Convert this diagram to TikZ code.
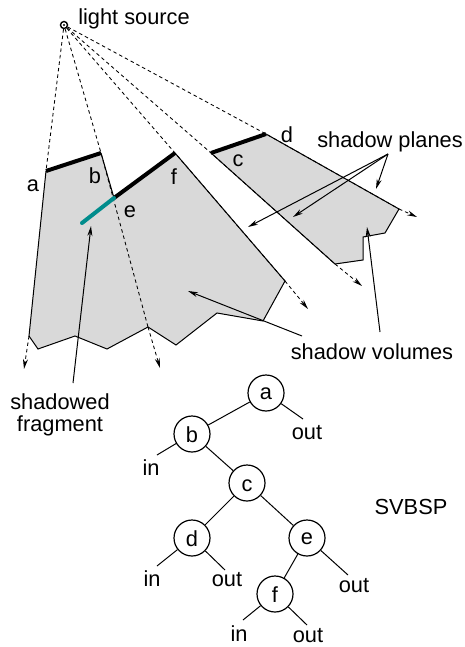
\documentclass[tikz,border=0pt]{standalone}
\usepackage{fontspec}
\setmainfont{Liberation Sans}
\usetikzlibrary{arrows.meta}
\definecolor{fragteal}{RGB}{0,140,140}
\tikzset{
  lbl/.style={anchor=base,inner sep=0pt,font=\fontsize{21.8}{24}\selectfont},
  treenode/.style={circle,draw,line width=1.2pt,minimum size=36pt,inner sep=0pt,text height=16pt,text depth=0pt,font=\fontsize{21.8}{24}\selectfont},
  lownode/.style={treenode,text height=12pt},
  ray/.style={line width=0.85pt,dash pattern=on 3.5pt off 3pt},
  edgeline/.style={line width=1pt},
  tip/.style={-{Stealth[length=10pt,width=5pt]}},
  pointer/.style={line width=1pt,tip},
  occluder/.style={line width=4pt},
  branch/.style={line width=1pt},
}
\begin{document}
\begin{tikzpicture}[x=1pt,y=-1pt]
\useasboundingbox (0,0) rectangle (464,647);
% key points
\coordinate (A) at (46,171); \coordinate (B) at (101,153);
\coordinate (E) at (114,198); \coordinate (F) at (175,153);
\coordinate (C) at (211,153); \coordinate (D) at (266,134);
\coordinate (T) at (82,223);
\coordinate (a1) at (29,336); \coordinate (a2) at (24,369);
\coordinate (b1) at (148,327); \coordinate (b2) at (160,368);
\coordinate (f1) at (285,281); \coordinate (f2) at (308,309);
\coordinate (c1) at (335,264); \coordinate (c2) at (362,286);
\coordinate (d1) at (399,209); \coordinate (d2) at (417,217);
% volumes
\fill[gray!30] (A) -- (a1) -- (38,349) -- (75,336) -- (107,349) -- (b1) -- (176,345) -- (217,313) -- (263,321) -- (f1) -- (F) -- (E) -- (B) -- cycle;
\fill[gray!30] (C) -- (D) -- (d1) -- (385,233) -- (363,237) -- (363,260) -- (c1) -- cycle;
\draw[edgeline] (A) -- (a1) -- (38,349) -- (75,336) -- (107,349) -- (b1) -- (176,345) -- (217,313) -- (263,321) -- (f1) -- (F);
\draw[edgeline] (D) -- (d1) -- (385,233) -- (363,237) -- (363,260) -- (c1) -- (C);
\draw[edgeline] (B) -- (E);
% light
\node[circle,draw,line width=1.4pt,minimum size=7pt,inner sep=0pt] (light) at (64,25) {};
\fill (64,25) circle (1.2pt);
\node[lbl] (lightlabel) at (134,25) {light source};
% rays
\draw[ray] (light) -- (A);
\draw[ray] (light) -- (B) -- (b1);
\draw[ray] (light) -- (F) -- (f1);
\draw[ray] (light) -- (C) -- (c1);
\draw[ray] (light) -- (D) -- (d1);
\draw[ray,tip] (a1) -- (a2);
\draw[ray,tip] (b1) -- (b2);
\draw[ray,tip] (f1) -- (f2);
\draw[ray,tip] (c1) -- (c2);
\draw[ray,tip] (d1) -- (d2);
% occluders
\draw[occluder] (A) -- (B);
\draw[occluder] (E) -- (F);
\draw[occluder] (C) -- (D);
\draw[occluder,color=fragteal,line cap=round] (T) -- (E);
% labels
\node[lbl] (la) at (33,191) {a};
\node[lbl] (lb) at (95,183) {b};
\node[lbl] (le) at (130,217) {e};
\node[lbl] (lf) at (174,184) {f};
\node[lbl] (lc) at (238,167) {c};
\node[lbl] (ld) at (287,143) {d};
\node[lbl] (planes) at (390,148) {shadow planes};
\node[lbl] (volumes) at (372,359) {shadow volumes};
\node[lbl] (shadowed) at (60,409) {shadowed};
\node[lbl] (fragment) at (60,431) {fragment};
% pointers
\coordinate (ps) at (388,154);
\coordinate (vs1) at (380,332);
\coordinate (vs2) at (302,336);
\coordinate (fs) at (73,383);
\coordinate (pe1) at (248,227); \coordinate (pe2) at (293,217); \coordinate (pe3) at (376,189);
\coordinate (ve1) at (367,227); \coordinate (ve2) at (188,291);
\coordinate (fe) at (91,226);
\draw[pointer] (ps) -- (pe1);
\draw[pointer] (ps) -- (pe2);
\draw[pointer] (ps) -- (pe3);
\draw[pointer] (vs1) -- (ve1);
\draw[pointer] (vs2) -- (ve2);
\draw[pointer] (fs) -- (fe);
% tree
\node[lownode] (na) at (266,393) {a};
\node[treenode] (nb) at (192,434) {b};
\node[treenode] (nc) at (247,483) {c};
\node[treenode] (nd) at (192,538) {d};
\node[lownode] (ne) at (307,538) {e};
\node[treenode] (nf) at (275,594) {f};
\coordinate (aout) at (303,419);
\coordinate (bin) at (157,455);
\coordinate (din) at (157,566);
\coordinate (dout) at (225,570);
\coordinate (eout) at (348,575);
\coordinate (fin) at (243,620);
\coordinate (fout) at (307,625);
\draw[branch] (na) -- (nb);
\draw[branch] (na) -- (aout);
\draw[branch] (nb) -- (bin);
\draw[branch] (nb) -- (nc);
\draw[branch] (nc) -- (nd);
\draw[branch] (nc) -- (ne);
\draw[branch] (nd) -- (din);
\draw[branch] (nd) -- (dout);
\draw[branch] (ne) -- (nf);
\draw[branch] (ne) -- (eout);
\draw[branch] (nf) -- (fin);
\draw[branch] (nf) -- (fout);
\node[lbl] (tout1) at (307,439) {out};
\node[lbl] (tin1) at (151,475) {in};
\node[lbl] (tin2) at (152,586) {in};
\node[lbl] (tout2) at (227,586) {out};
\node[lbl] (tout3) at (354,592) {out};
\node[lbl] (tin3) at (239,641) {in};
\node[lbl] (tout4) at (308,642) {out};
\node[lbl] (svbsp) at (411,514) {SVBSP};
\end{tikzpicture}
\end{document}
